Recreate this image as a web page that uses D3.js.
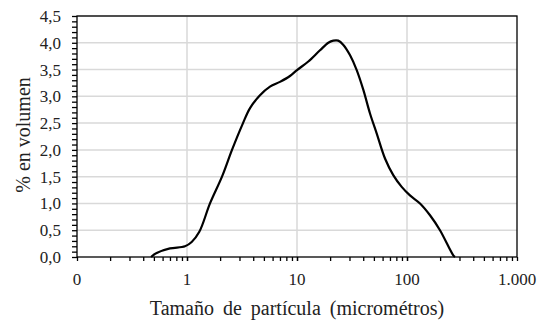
<!DOCTYPE html>
<html><head><meta charset="utf-8">
<script src="https://cdn.jsdelivr.net/npm/d3@7"></script>
<style>body{margin:0;background:#fff}svg{display:block}</style>
</head><body><svg id="c" width="538" height="320" font-family="'Liberation Serif', 'Times New Roman', Times, 'DejaVu Serif', serif"></svg>
<script>
const sizes = [0.471,0.53,0.70,0.959,1.103,1.294,1.618,2.08,2.565,3.23,3.74,4.61,5.68,7.0,8.63,10.0,12.67,16.18,19.27,21.4,23.7,26.4,30.3,34.9,40.1,46.1,53.0,63.1,75.0,89.5,106.4,131.3,161.9,199.5,263.6,273];
const volume = [0,0.075,0.16,0.20,0.28,0.47,1.0,1.5,2.0,2.5,2.78,3.02,3.18,3.27,3.38,3.49,3.65,3.86,4.0,4.04,4.04,3.96,3.77,3.49,3.12,2.68,2.31,1.84,1.53,1.31,1.15,1.0,0.78,0.50,0.03,0];
const xTicks = [0.1,1,10,100,1000];
const xTickLabels = ["0","1","10","100","1.000"];
const yTicks = [0,0.5,1,1.5,2,2.5,3,3.5,4,4.5];

const svg = d3.select("#c");
const L=77,R=517,T=16,B=257;
const x = d3.scaleLog().domain([0.1,1000]).range([L,R]);
const y = d3.scaleLinear().domain([0,4.5]).range([B,T]);
const fmt = v => d3.format(".1f")(v).replace(".",",");

// grid
svg.append("g").selectAll("line").data(yTicks.slice(1)).join("line")
  .attr("x1",L).attr("x2",R).attr("y1",d=>y(d)).attr("y2",d=>y(d))
  .attr("stroke","#d9d9d9").attr("stroke-width",1.5);
svg.append("g").selectAll("line").data(xTicks.slice(1,-1)).join("line")
  .attr("y1",T).attr("y2",B).attr("x1",d=>x(d)).attr("x2",d=>x(d))
  .attr("stroke","#d9d9d9").attr("stroke-width",1.5);

// curve
const line = d3.line().x((d,i)=>x(sizes[i])).y(d=>y(d)).curve(d3.curveCatmullRom.alpha(0.5));
svg.append("path").attr("d",line(volume)).attr("fill","none").attr("stroke","#000").attr("stroke-width",2.2).attr("stroke-linejoin","round");

// frame
svg.append("rect").attr("x",L).attr("y",T).attr("width",R-L).attr("height",B-T)
  .attr("fill","none").attr("stroke","#000").attr("stroke-width",1.3);

// y axis ticks
const yMinor = d3.range(0,46).map(i=>i/10);
svg.append("g").attr("transform",`translate(${L},0)`)
  .call(d3.axisLeft(y).tickValues(yMinor).tickSize(5).tickFormat(""))
  .call(g=>{g.select(".domain").remove();g.selectAll("line").attr("stroke","#000").attr("stroke-width",1.3);});
svg.append("g").selectAll("text").data(yTicks).join("text")
  .attr("x",61).attr("y",d=>y(d)).attr("dy","0.35em").attr("text-anchor","end")
  .attr("font-size",17).attr("fill","#222").text(fmt);

// x axis ticks
const xMinor = [];
for (let e=-1;e<3;e++) for (let k=1;k<=10;k++) xMinor.push(k*Math.pow(10,e));
svg.append("g").attr("transform",`translate(0,${B})`)
  .call(d3.axisBottom(x).tickValues(xMinor).tickSize(4).tickFormat(""))
  .call(g=>{g.select(".domain").remove();g.selectAll("line").attr("stroke","#000").attr("stroke-width",1.3);});
svg.append("g").selectAll("text").data(xTicks).join("text")
  .attr("x",d=>x(d)).attr("y",285).attr("text-anchor","middle")
  .attr("font-size",17).attr("fill","#222").text((d,i)=>xTickLabels[i]);

// titles
svg.append("text").attr("x",297).attr("y",315).attr("text-anchor","middle")
  .attr("font-size",20).attr("fill","#222").attr("word-spacing","4px").text("Tamaño de partícula (micrométros)");
svg.append("text").attr("transform","translate(30,135) rotate(-90)").attr("text-anchor","middle")
  .attr("font-size",20).attr("fill","#222").text("% en volumen");
</script></body></html>
